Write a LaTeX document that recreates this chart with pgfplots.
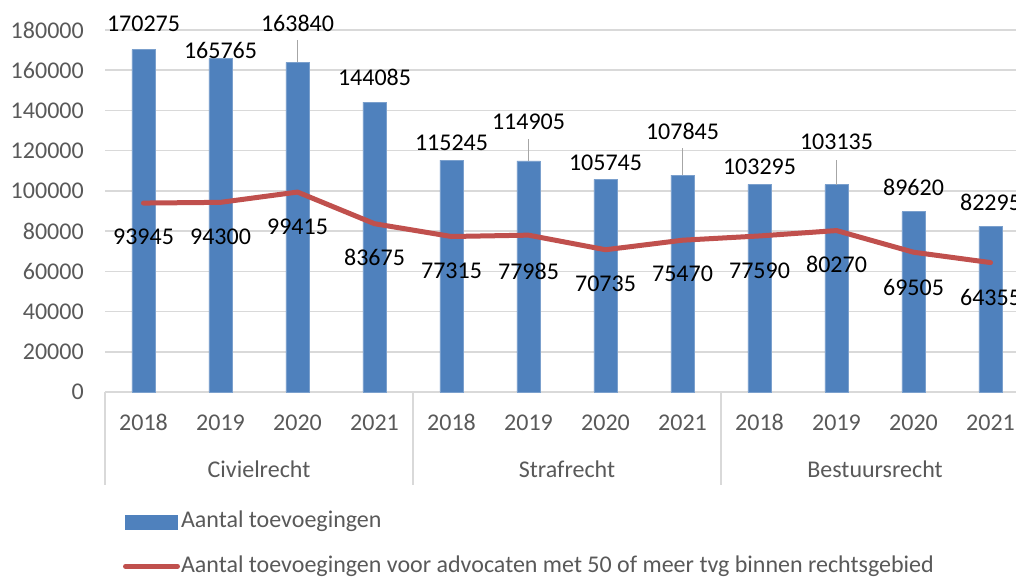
\documentclass[border=0pt]{standalone}
\usepackage{fontspec}
\setmainfont{Carlito}
\usepackage{pgfplots}
\pgfplotsset{compat=1.18}
\usepackage{pgfplotstable}

\definecolor{barblue}{HTML}{4F81BD}
\definecolor{linered}{HTML}{C0504D}
\definecolor{gridgray}{HTML}{D9D9D9}
\definecolor{labgray}{HTML}{595959}

% x, bar value, bar label height, line value, line label height
\pgfplotstableread{
x  bar    barlab  line   linelab
0  170275 182984  93945  77072
1  165765 170056  94300  77072
2  163840 183482  99415  82045
3  144085 156631  83675  67127
4  115245 123813  77315  60166
5  114905 134255  77985  60166
6  105745 113868  70735  53702
7  107845 129780  75470  58674
8  103295 111879  77590  60166
9  103135 124310  80270  63647
10 89620  101934  69505  52210
11 82295  94476   64355  47238
}\data

\begin{document}
\begin{tikzpicture}[font=\fontsize{18}{21.6}\selectfont]
\begin{axis}[
    at={(78.75pt,138.75pt)}, anchor=south west,
    scale only axis,
    width=693pt, height=271.5pt,
    xmin=-0.5, xmax=11.5,
    ymin=0, ymax=180000,
    xtick={0,...,11},
    xticklabels={2018,2019,2020,2021,2018,2019,2020,2021,2018,2019,2020,2021},
    ytick={0,20000,...,180000},
    scaled y ticks=false,
    ymajorgrids,
    grid style={gridgray, line width=1.2pt},
    axis line style={draw=none},
    major tick length=0pt,
    tick label style={text=labgray},
    /pgf/number format/fixed,
    /pgf/number format/assume math mode=true,
    /pgf/number format/1000 sep={},
    yticklabel style={anchor=east, inner sep=0pt, xshift=-15.75pt},
    xticklabel style={anchor=center, inner sep=0pt, yshift=-22.9pt},
    clip=false,
    legend cell align=left,
    legend style={
        at={(axis description cs:0,0)}, anchor=north west,
        xshift=13.5pt, yshift=-88.8pt,
        draw=none, fill=none, inner sep=0pt, outer sep=0pt,
        row sep=15.75pt, column sep=0.75pt,
        nodes={inner sep=0pt, text=labgray, text height=13pt, text depth=4.5pt},
    },
]
\addplot[ybar, bar width=0.3, bar shift=0pt, fill=barblue, draw=barblue!75!white, line width=0.5pt,
    legend image code/.code={\fill[barblue] (0pt,-5.25pt) rectangle (39pt,5.25pt);}]
    table[x=x, y=bar] {\data};
\addlegendentry{Aantal toevoegingen}

\addplot[linered, line width=3.75pt, line join=round, line cap=round,
    legend image code/.code={\draw[linered, line width=3.75pt, line cap=round] (0pt,0pt) -- (39pt,0pt);}]
    table[x=x, y=line] {\data};
\addlegendentry{Aantal toevoegingen voor advocaten met 50 of meer tvg binnen rechtsgebied}

% leader lines of moved labels
\addplot[forget plot, gray!70, line width=0.9pt] coordinates {(2,163840) (2,175022)};
\addplot[forget plot, gray!70, line width=0.9pt] coordinates {(5,114905) (5,125802)};
\addplot[forget plot, gray!70, line width=0.9pt] coordinates {(7,107845) (7,121327)};
\addplot[forget plot, gray!70, line width=0.9pt] coordinates {(9,103135) (9,115360)};

% data labels
\addplot[forget plot, draw=none, mark=none, nodes near coords, point meta=explicit symbolic,
    nodes near coords style={anchor=center, inner sep=0pt, text=black}]
    table[x=x, y=barlab, meta=bar] {\data};
\addplot[forget plot, draw=none, mark=none, nodes near coords, point meta=explicit symbolic,
    nodes near coords style={anchor=center, inner sep=0pt, text=black}]
    table[x=x, y=linelab, meta=line] {\data};

% group separators and names
\draw[gridgray, line width=1.2pt] (axis cs:-0.5,0) -- ++(0pt,-70pt);
\draw[gridgray, line width=1.2pt] (axis cs:3.5,0) -- ++(0pt,-70pt);
\draw[gridgray, line width=1.2pt] (axis cs:7.5,0) -- ++(0pt,-70pt);
\draw[gridgray, line width=1.2pt] (axis cs:11.5,0) -- ++(0pt,-70pt);
\node[text=labgray] at ([yshift=-58pt]axis cs:1.5,0) {Civielrecht};
\node[text=labgray] at ([yshift=-58pt]axis cs:5.5,0) {Strafrecht};
\node[text=labgray] at ([yshift=-58pt]axis cs:9.5,0) {Bestuursrecht};
\end{axis}
\pgfresetboundingbox
\useasboundingbox (0pt,0pt) rectangle (762pt,432.75pt);
\end{tikzpicture}
\end{document}
